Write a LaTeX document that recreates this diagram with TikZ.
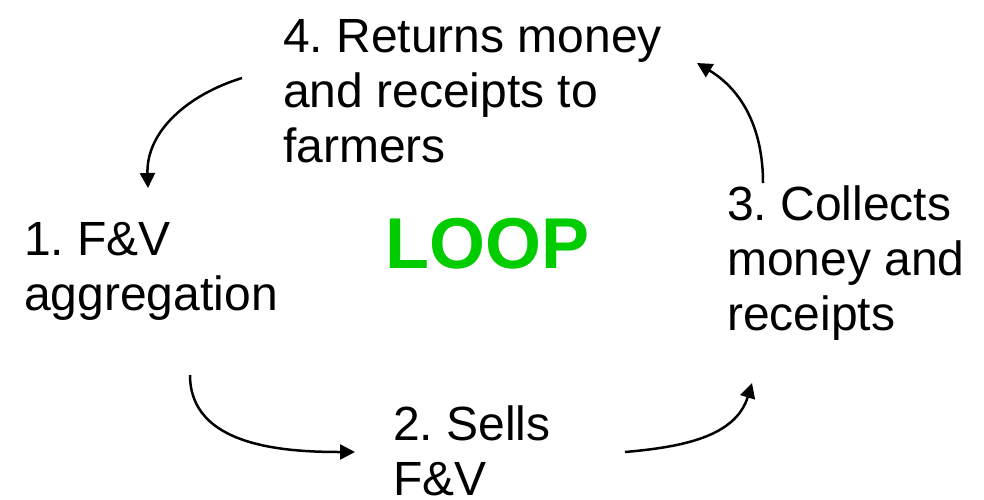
\documentclass[tikz,border=0pt]{standalone}
\usepackage{fontspec}
\setmainfont{Liberation Sans}
\frenchspacing
\usetikzlibrary{arrows.meta}
\definecolor{loopgreen}{RGB}{0,204,0}
\tikzstyle{stage} = [anchor=base west, align=left, inner sep=0pt, font=\fontsize{48}{55}\selectfont]
\tikzstyle{title} = [anchor=base west, inner sep=0pt, text=loopgreen, font=\fontsize{72}{80}\selectfont\bfseries]
\tikzstyle{arrow} = [line width=2.5pt, -{Triangle[length=15pt,width=15pt]}]

\begin{document}
\begin{tikzpicture}[x=1pt, y=-1pt]
	\useasboundingbox (0,0) rectangle (984,499);
	% base west sits on the last line
	\node (ret) at (283, 162) [stage] {4. Returns money\\and receipts to\\farmers};
	\node (agg) at (24, 310) [stage] {1. F\&V\\aggregation};
	\node (loop) at (385, 268) [title] {LOOP};
	\node (col) at (727, 330) [stage] {3. Collects\\money and\\receipts};
	\node (sell) at (393, 495) [stage] {2. Sells\\F\&V};
	\draw[arrow] ([shift={(-41,-84)}]ret.base west) to[out=197, in=92] ([shift={(124,-122)}]agg.base west);
	\draw[arrow] ([shift={(166,65)}]agg.base west) to[out=270, in=180] ([shift={(-38,-43)}]sell.base west);
	\draw[arrow] ([shift={(232,-43)}]sell.base west) to[out=5, in=253] ([shift={(25,53)}]col.base west);
	\draw[arrow] ([shift={(36,-147)}]col.base west) to[out=90, in=-31] ([shift={(414,-99)}]ret.base west);
\end{tikzpicture}
\end{document}
